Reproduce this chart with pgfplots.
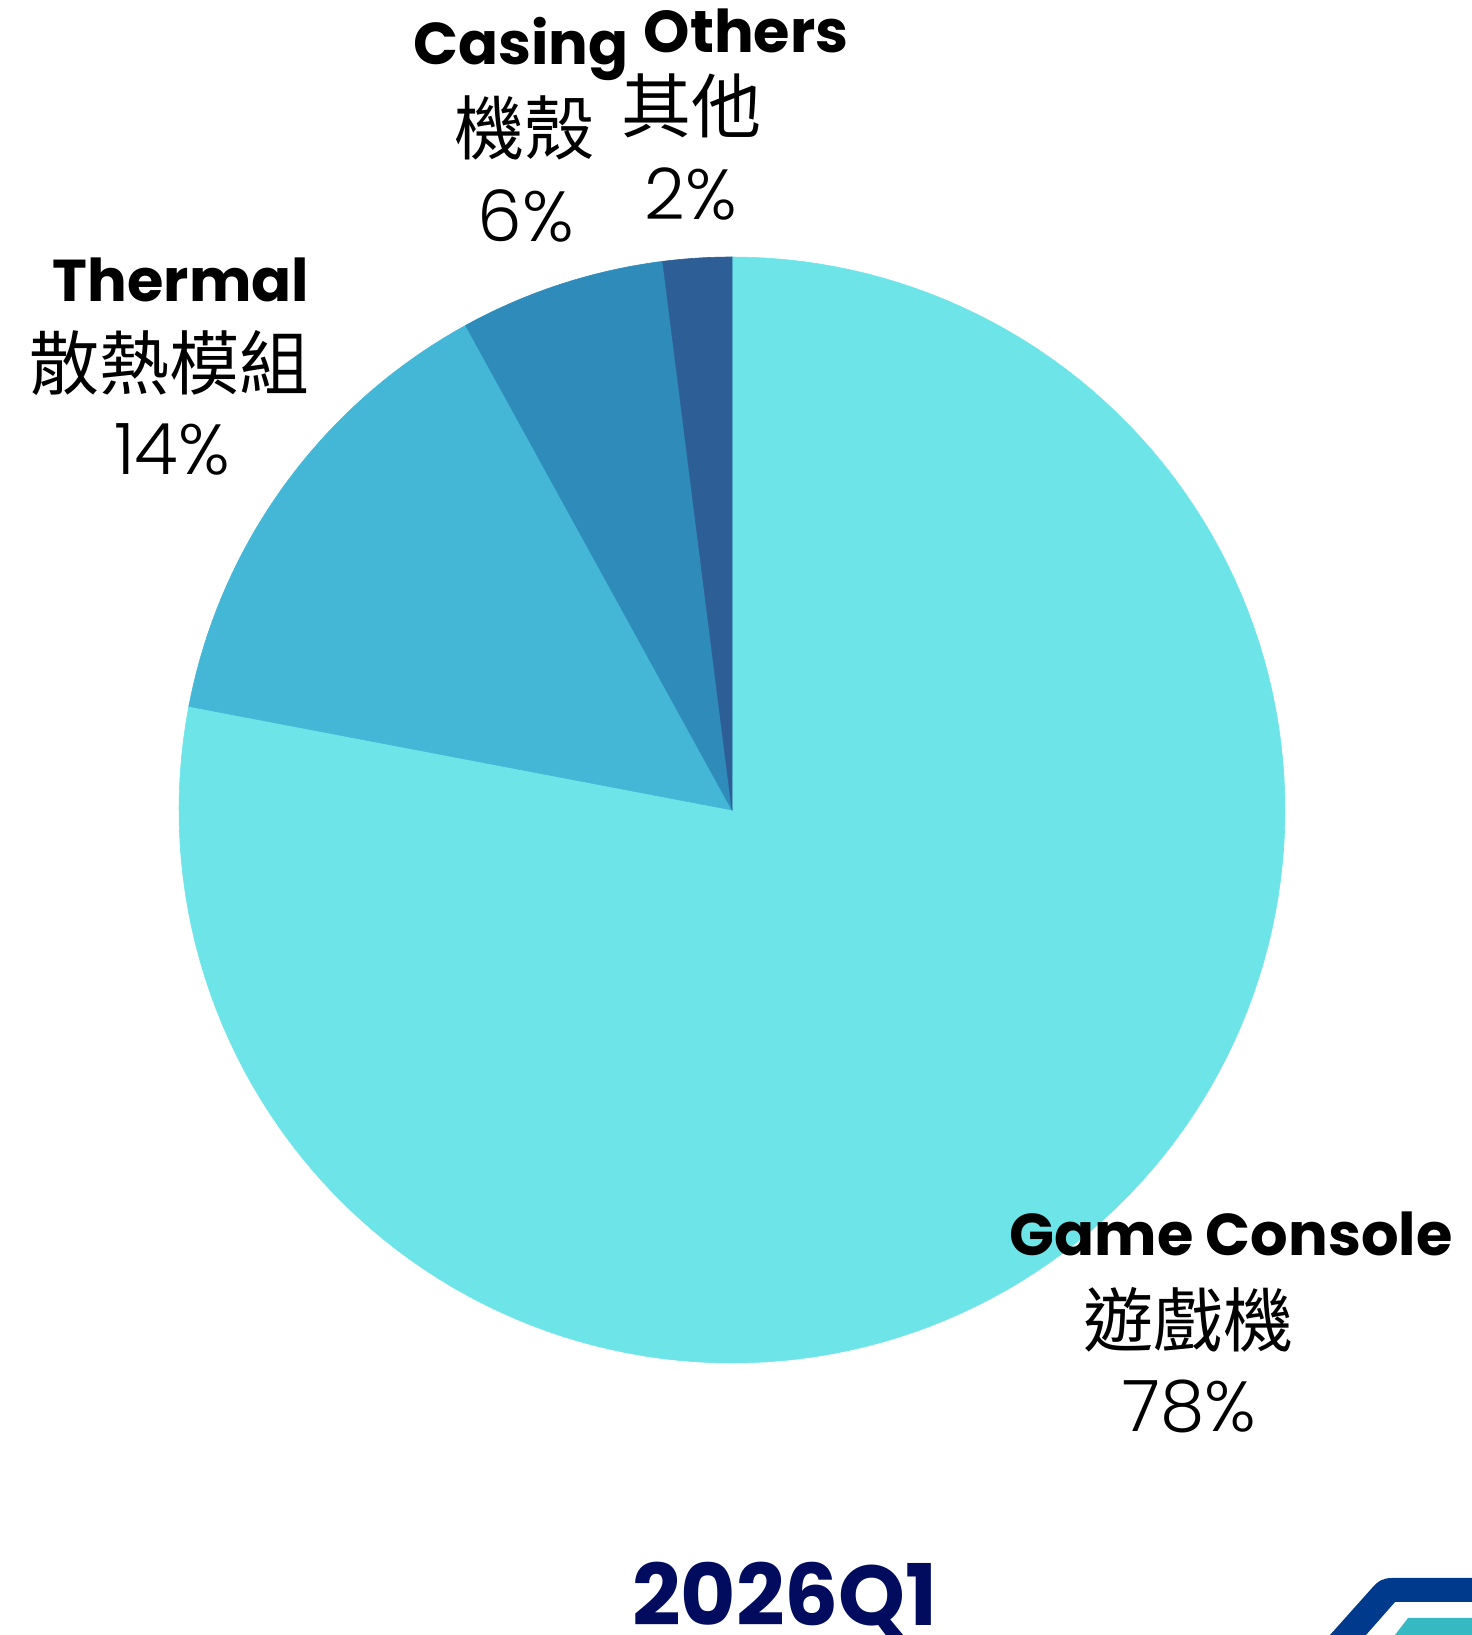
\documentclass[border=0pt]{standalone}
\usepackage{pgfplots}
\pgfplotsset{compat=1.18}
\usepackage{pgfplotstable}
\usepackage{fontspec}
\setmainfont{Poppins}
\newfontfamily\popb{Poppins}[UprightFont={* Bold}]
\newfontfamily\popl{Poppins Light}
\newfontfamily\cjk{Noto Sans CJK TC}
\definecolor{cO}{HTML}{2E5E96}
\definecolor{cC}{HTML}{2E8BBA}
\definecolor{cT}{HTML}{44B7D6}
\definecolor{cG}{HTML}{6DE5E8}
\definecolor{navy}{HTML}{020C5E}
\definecolor{logob}{HTML}{003A8C}
\definecolor{logot}{HTML}{36B9C2}
% shares in percent, counter-clockwise from 12 o'clock
\pgfplotstableread{
name    value
Others  2
Casing  6
Thermal 14
Game    78
}\piedata
\pgfplotstablegetelem{0}{value}\of\piedata\let\vO\pgfplotsretval
\pgfplotstablegetelem{1}{value}\of\piedata\let\vC\pgfplotsretval
\pgfplotstablegetelem{2}{value}\of\piedata\let\vT\pgfplotsretval
\pgfplotstablegetelem{3}{value}\of\piedata\let\vG\pgfplotsretval
\pgfmathsetmacro\aA{90}
\pgfmathsetmacro\aB{\aA+3.6*\vO}
\pgfmathsetmacro\aC{\aB+3.6*\vC}
\pgfmathsetmacro\aD{\aC+3.6*\vT}
\pgfmathsetmacro\aE{\aD+3.6*\vG}
\begin{document}
\begin{tikzpicture}[x=0.5pt,y=0.5pt]
\clip (0,0) rectangle (1472,1635);
\fill[white] (0,0) rectangle (1472,1635);
\begin{axis}[
  hide axis, scale only axis,
  width=553pt, height=553pt,
  xmin=-1, xmax=1, ymin=-1, ymax=1,
  at={(366pt,412.5pt)}, anchor=center,
  clip=false]
\addplot[fill=cG, draw=cG, line width=0.3pt, domain=\aD:\aE, samples=160, variable=\t] ({cos(\t)},{sin(\t)}) -- (axis cs:0,0) -- cycle;
\addplot[fill=cT, draw=cT, line width=0.3pt, domain=\aC:\aD, samples=40, variable=\t] ({cos(\t)},{sin(\t)}) -- (axis cs:0,0) -- cycle;
\addplot[fill=cC, draw=cC, line width=0.3pt, domain=\aB:\aC, samples=30, variable=\t] ({cos(\t)},{sin(\t)}) -- (axis cs:0,0) -- cycle;
\addplot[fill=cO, draw=cO, line width=0.3pt, domain=\aA:\aB, samples=20, variable=\t] ({cos(\t)},{sin(\t)}) -- (axis cs:0,0) -- cycle;
\end{axis}
% labels
\tikzset{lab/.style={anchor=base, inner sep=0pt, font=\popb\fontsize{29.5}{35}\selectfont},
         zh/.style={anchor=base, inner sep=0pt, font=\cjk\fontsize{35}{40}\selectfont},
         pc/.style={anchor=base, inner sep=0pt, font=\popl\fontsize{35.5}{40}\selectfont}}
\node[lab] at (521,1570) {Casing};
\node[zh]  at (524,1480) {機殼};
\node[pc]  at (526,1393) {6\%};
\node[lab] at (746,1582) {Others};
\node[zh]  at (691,1502) {其他};
\node[pc]  at (691,1415) {2\%};
\node[lab] at (181,1333) {Thermal};
\node[zh]  at (170,1245) {散熱模組};
\node[pc]  at (172,1160) {14\%};
\node[lab] at (1231,379) {Game Console};
\node[zh]  at (1188,288) {遊戲機};
\node[pc]  at (1189,203) {78\%};
\node[anchor=base, inner sep=0pt, text=navy, font=\popb\fontsize{42.5}{48}\selectfont] at (785,10) {2026Q1};
% logo fragment
\fill[logob] (1330,0) -- (1372,47) .. controls (1378,54) and (1383,57) .. (1392,57) -- (1472,57) -- (1472,33) -- (1395,33) -- (1366,0) -- cycle;
\fill[logot] (1395,0) -- (1408,17) -- (1472,17) -- (1472,0) -- cycle;
\end{tikzpicture}
\end{document}
